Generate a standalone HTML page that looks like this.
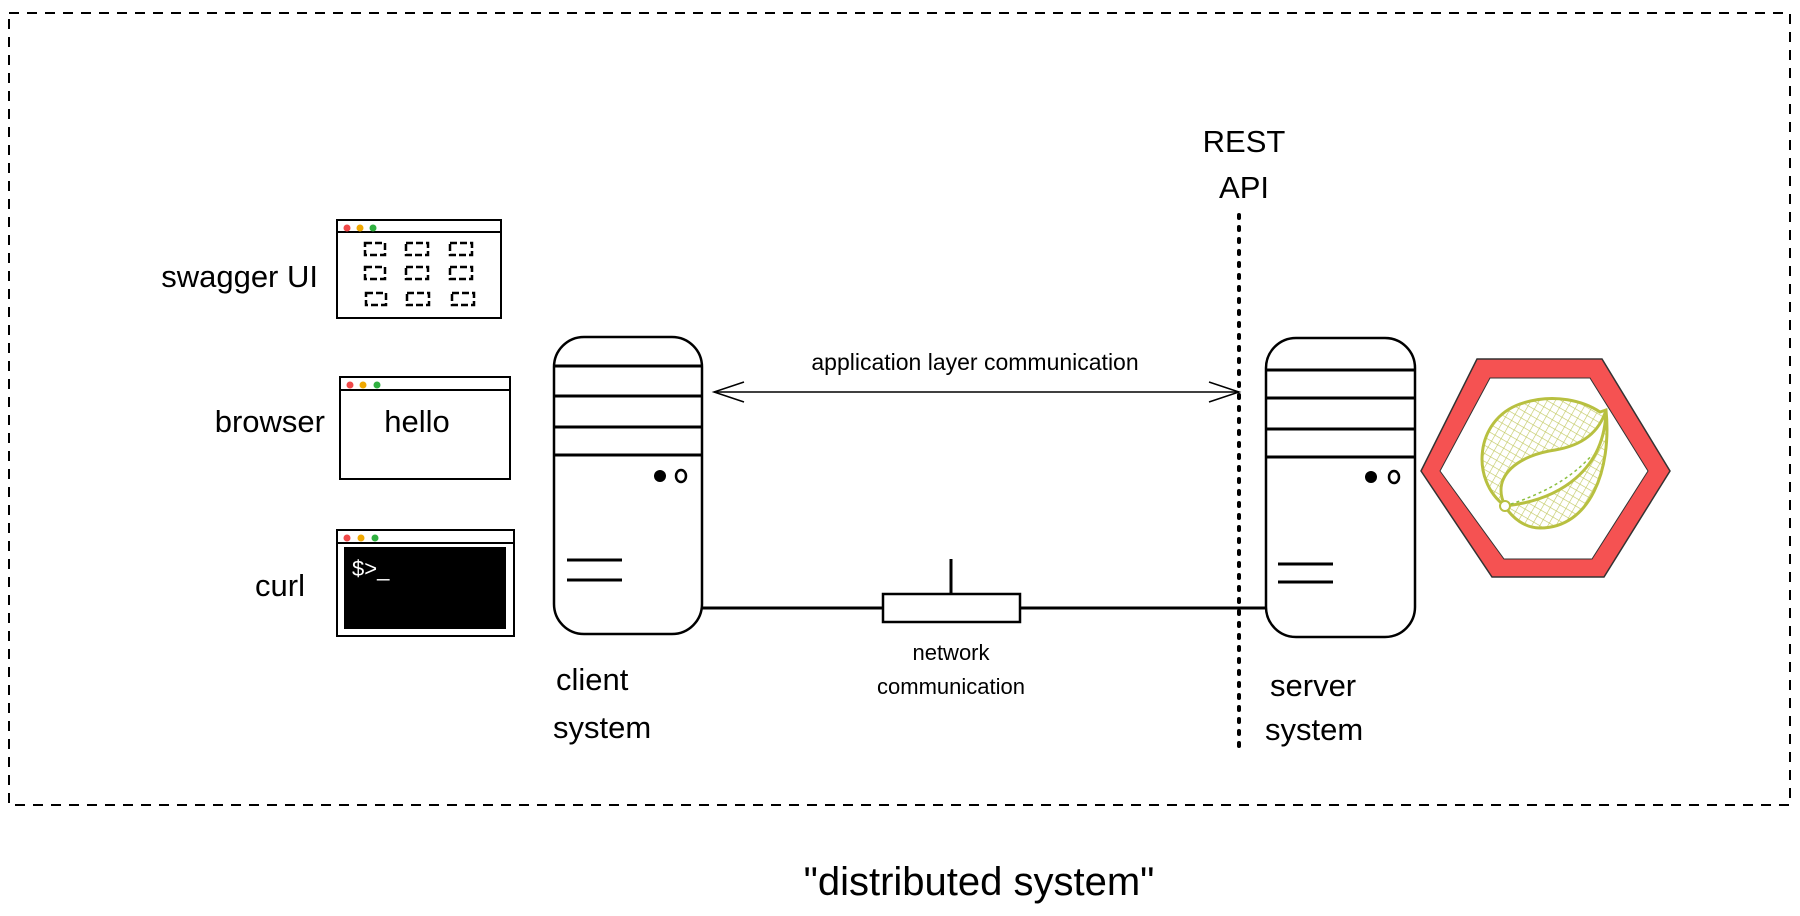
<!DOCTYPE html>
<html><head><meta charset="utf-8"><style>
html,body{margin:0;padding:0;background:#fff;}
svg{display:block;}
text{font-family:"Liberation Sans",sans-serif;fill:#000;}
</style></head><body>
<svg width="1800" height="916" viewBox="0 0 1800 916" xmlns="http://www.w3.org/2000/svg">
<defs>
<pattern id="hatch" width="7" height="7" patternUnits="userSpaceOnUse" patternTransform="rotate(30)">
<rect width="7" height="7" fill="#fff"/>
<path d="M0,0 L0,7 M0,0 L7,0" stroke="#c2c860" stroke-width="1.2"/>
</pattern>
</defs>
<rect x="9" y="13" width="1781" height="792" fill="none" stroke="#000" stroke-width="2" stroke-dasharray="10 8"/>

<!-- swagger window -->
<rect x="337" y="220" width="164" height="98" fill="#fff" stroke="#000" stroke-width="2"/>
<line x1="337" y1="232" x2="501" y2="232" stroke="#000" stroke-width="2"/>
<circle cx="347" cy="228" r="3.5" fill="#f04848"/><circle cx="360" cy="228" r="3.5" fill="#f0a800"/><circle cx="373" cy="228" r="3.5" fill="#30b040"/>
<g fill="none" stroke="#000" stroke-width="2.5" stroke-dasharray="7 3">
<rect x="365" y="243" width="20" height="12"/><rect x="406" y="243" width="22" height="12"/><rect x="450" y="243" width="22" height="12"/>
<rect x="365" y="267" width="20" height="12"/><rect x="406" y="267" width="22" height="12"/><rect x="450" y="267" width="22" height="12"/>
<rect x="366" y="293" width="20" height="12"/><rect x="407" y="293" width="22" height="12"/><rect x="452" y="293" width="22" height="12"/>
</g>
<text x="318" y="287" font-size="31" text-anchor="end">swagger UI</text>

<!-- browser window -->
<rect x="340" y="377" width="170" height="102" fill="#fff" stroke="#000" stroke-width="2"/>
<line x1="340" y1="390" x2="510" y2="390" stroke="#000" stroke-width="2"/>
<circle cx="350" cy="385" r="3.5" fill="#f04848"/><circle cx="363" cy="385" r="3.5" fill="#f0a800"/><circle cx="377" cy="385" r="3.5" fill="#30b040"/>
<text x="417" y="432" font-size="31" text-anchor="middle">hello</text>
<text x="325" y="432" font-size="31" text-anchor="end">browser</text>

<!-- curl window -->
<rect x="337" y="530" width="177" height="106" fill="#fff" stroke="#000" stroke-width="2"/>
<line x1="337" y1="543" x2="514" y2="543" stroke="#000" stroke-width="2"/>
<circle cx="347" cy="538" r="3.5" fill="#f04848"/><circle cx="361" cy="538" r="3.5" fill="#f0a800"/><circle cx="375" cy="538" r="3.5" fill="#30b040"/>
<rect x="344" y="547" width="162" height="82" fill="#000"/>
<text x="352" y="576" font-size="22" style="fill:#fff">$&gt;_</text>
<text x="305" y="596" font-size="31" text-anchor="end">curl</text>

<!-- client server -->
<rect x="554" y="337" width="148" height="297" rx="30" fill="#fff" stroke="#000" stroke-width="2.5"/>
<g stroke="#000" stroke-width="3">
<line x1="554" y1="366" x2="702" y2="366"/><line x1="554" y1="396" x2="702" y2="396"/>
<line x1="554" y1="427" x2="702" y2="427"/><line x1="554" y1="455" x2="702" y2="455"/>
<line x1="567" y1="560" x2="622" y2="560"/><line x1="567" y1="580" x2="622" y2="580"/>
</g>
<circle cx="660" cy="476" r="6" fill="#000"/><ellipse cx="681" cy="476" rx="5" ry="6" fill="none" stroke="#000" stroke-width="2.5"/>
<text x="556" y="690" font-size="31">client</text>
<text x="553" y="738" font-size="31">system</text>

<!-- server -->
<rect x="1266" y="338" width="149" height="299" rx="30" fill="#fff" stroke="#000" stroke-width="2.5"/>
<g stroke="#000" stroke-width="3">
<line x1="1266" y1="370" x2="1415" y2="370"/><line x1="1266" y1="398" x2="1415" y2="398"/>
<line x1="1266" y1="429" x2="1415" y2="429"/><line x1="1266" y1="457" x2="1415" y2="457"/>
<line x1="1278" y1="564" x2="1333" y2="564"/><line x1="1278" y1="582" x2="1333" y2="582"/>
</g>
<circle cx="1371" cy="477" r="6" fill="#000"/><ellipse cx="1394" cy="477" rx="5" ry="6" fill="none" stroke="#000" stroke-width="2.5"/>
<text x="1270" y="696" font-size="31">server</text>
<text x="1265" y="740" font-size="31">system</text>

<!-- network -->
<line x1="702" y1="608" x2="883" y2="608" stroke="#000" stroke-width="3"/>
<line x1="1020" y1="608" x2="1266" y2="608" stroke="#000" stroke-width="3"/>
<rect x="883" y="594" width="137" height="28" fill="#fff" stroke="#000" stroke-width="2.5"/>
<line x1="951" y1="559" x2="951" y2="594" stroke="#000" stroke-width="3"/>
<text x="951" y="660" font-size="22" text-anchor="middle">network</text>
<text x="951" y="694" font-size="22" text-anchor="middle">communication</text>

<!-- app layer arrow -->
<line x1="714" y1="392" x2="1239" y2="392" stroke="#000" stroke-width="1.5"/>
<polyline points="744,382 714,392 744,402" fill="none" stroke="#000" stroke-width="1.5"/>
<polyline points="1209,382 1239,392 1209,402" fill="none" stroke="#000" stroke-width="1.5"/>
<text x="975" y="370" font-size="23" text-anchor="middle">application layer communication</text>

<!-- REST API -->
<line x1="1239" y1="215" x2="1239" y2="748" stroke="#000" stroke-width="4" stroke-dasharray="3 9" stroke-linecap="round"/>
<text x="1244" y="152" font-size="31" text-anchor="middle">REST</text>
<text x="1244" y="198" font-size="31" text-anchor="middle">API</text>

<!-- spring hexagon -->
<polygon points="1421,471 1477,359 1602,359 1670,471 1604,577 1492,577" fill="#f55252" stroke="#333" stroke-width="1.5"/>
<polygon points="1440,471 1490,378 1590,378 1648,471 1592,559 1504,559" fill="#fff" stroke="#333" stroke-width="1"/>
<path d="M1505,506 C1470,480 1475,420 1520,404 C1555,392 1585,402 1600,412 L1606,410 C1612,470 1590,528 1540,528 C1525,528 1512,518 1505,506 Z" fill="url(#hatch)" stroke="#b8c040" stroke-width="3"/>
<path d="M1505,506 C1490,475 1520,455 1555,450 C1585,445 1600,430 1606,410 C1605,470 1560,500 1505,506 Z" fill="#fff" stroke="#b8c040" stroke-width="3"/>
<path d="M1505,506 C1540,495 1570,480 1592,455" fill="none" stroke="#8cc040" stroke-width="1.5" stroke-dasharray="3 3"/>
<circle cx="1505" cy="506" r="5" fill="#fff" stroke="#b8c040" stroke-width="2"/>

<text x="979" y="895" font-size="40" text-anchor="middle">"distributed system"</text>
</svg>
</body></html>
